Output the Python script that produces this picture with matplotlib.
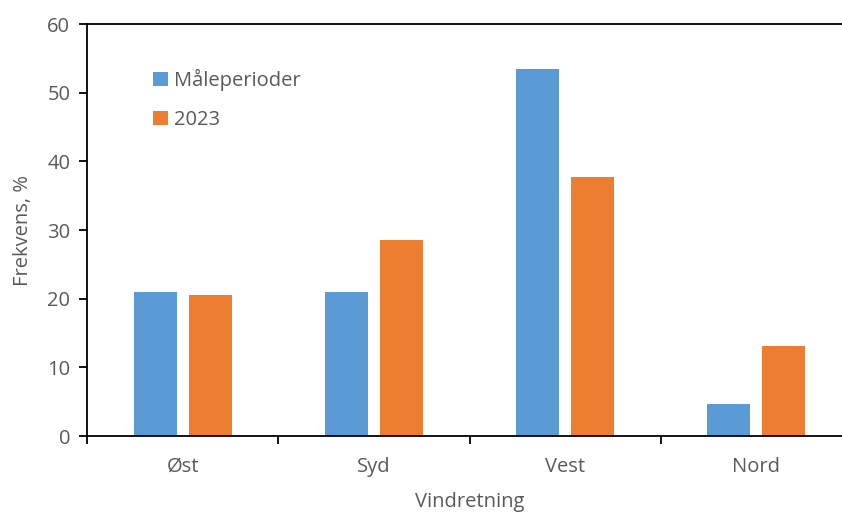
import numpy as np
import matplotlib
matplotlib.use("Agg")
import matplotlib.pyplot as plt

categories = ["Øst", "Syd", "Vest", "Nord"]
maaleperioder = [20.9, 20.9, 53.4, 4.6]
aar_2023 = [20.6, 28.5, 37.7, 13.1]

plt.rcParams['font.family'] = ['Open Sans', 'DejaVu Sans']
grey = '#595959'
fs = 14.5

fig = plt.figure(figsize=(8.42, 5.13), dpi=100)
ax = fig.add_axes([87/842, 1-436/513, 765/842, 412/513])

x = np.arange(len(categories))
w = 0.225
gap = 0.063
ax.bar(x - (w+gap)/2, maaleperioder, w, color='#5b9bd5', label='Måleperioder')
ax.bar(x + (w+gap)/2, aar_2023, w, color='#ed7d31', label='2023')

ax.set_xlim(-0.5, len(categories) - 0.5)
ax.set_ylim(0, 60)
ax.set_yticks(range(0, 61, 10))
ax.set_xticks(x)
ax.set_xticklabels(categories)
ax.set_xticks(np.arange(-0.5, len(categories), 1), minor=True)
ax.tick_params(axis='x', which='major', length=0, pad=15, labelsize=fs, labelcolor=grey)
ax.tick_params(axis='x', which='minor', length=6, width=1.3, direction='out')
ax.tick_params(axis='y', length=6, width=1.3, labelsize=fs, labelcolor=grey, pad=6)

for s in ax.spines.values():
    s.set_linewidth(1.3)
    s.set_color('black')
ax.spines['right'].set_visible(False)

ax.set_ylabel('Frekvens, %', fontsize=fs, color=grey, labelpad=10)
ax.set_xlabel('Vindretning', fontsize=fs, color=grey, labelpad=11)

ax.legend(loc='upper left', bbox_to_anchor=(0.062, 0.935), frameon=False, fontsize=fs,
          handlelength=0.75, handleheight=0.75, handletextpad=0.3, labelspacing=0.95,
          labelcolor=grey)

fig.savefig('out.png', dpi=100)
